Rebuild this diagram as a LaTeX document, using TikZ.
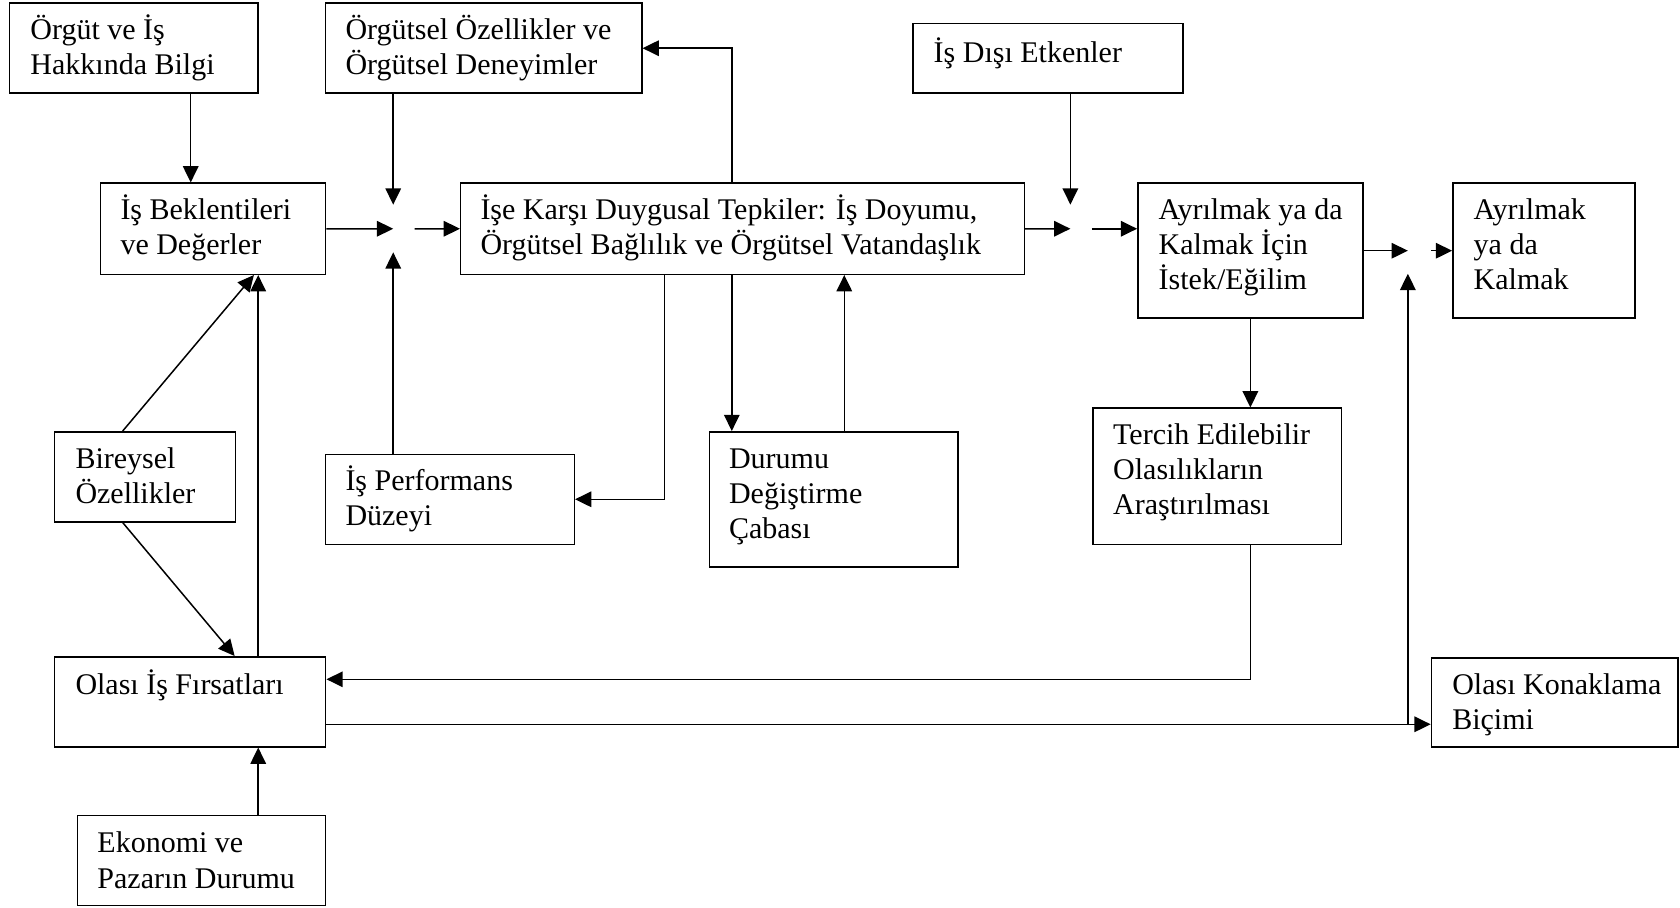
\documentclass[tikz,border=0pt]{standalone}
\usepackage{fontspec}
\setmainfont{Liberation Serif}
\usetikzlibrary{arrows.meta,fit}
\newcommand\boxlines[1]{\parbox[t]{300pt}{\raggedright #1}}
\begin{document}
\begin{tikzpicture}[x=0.4286pt,y=-0.4286pt,
  box/.style={draw, line width=0.6pt, inner sep=0pt},
  txt/.style={anchor=base west, inner sep=0pt, font=\fontsize{12}{14.06}\selectfont},
  arr/.style={line width=0.6pt, -{Triangle[length=6.5pt,width=6.2pt]}}]
\useasboundingbox (0,0) rectangle (1568,847);

% boxes
\node[box, fit={(9,3) (241,87)}] (A) {};
\node[box, fit={(304,3) (599,87)}] (B) {};
\node[box, fit={(852,22) (1104,87)}] (C) {};
\node[box, fit={(94,171) (304,256)}] (D) {};
\node[box, fit={(430,171) (956,256)}] (E) {};
\node[box, fit={(1062,171) (1272,297)}] (F) {};
\node[box, fit={(1356,171) (1526,297)}] (G) {};
\node[box, fit={(51,403) (220,487)}] (H) {};
\node[box, fit={(304,424) (536,508)}] (I) {};
\node[box, fit={(662,403) (894,529)}] (J) {};
\node[box, fit={(1020,381) (1252,508)}] (K) {};
\node[box, fit={(51,613) (304,697)}] (L) {};
\node[box, fit={(1336,614) (1566,697)}] (M) {};
\node[box, fit={(72.5,761) (304,845)}] (N) {};

% texts
\node[txt] (tA) at (28,37) {\boxlines{Örgüt ve İş\\Hakkında Bilgi}};
\node[txt] (tB) at (322,37) {\boxlines{Örgütsel Özellikler ve\\Örgütsel Deneyimler}};
\node[txt] (tC) at (871,58) {\boxlines{İş Dışı Etkenler}};
\node[txt] (tD) at (112,205) {\boxlines{İş Beklentileri\\ve Değerler}};
\node[txt] (tE) at (448,205) {\boxlines{İşe Karşı Duygusal Tepkiler: İş Doyumu,\\Örgütsel Bağlılık ve Örgütsel Vatandaşlık}};
\node[txt] (tF) at (1081,205) {\boxlines{Ayrılmak ya da\\Kalmak İçin\\İstek/Eğilim}};
\node[txt] (tG) at (1375,205) {\boxlines{Ayrılmak\\ya da\\Kalmak}};
\node[txt] (tH) at (70,437) {\boxlines{Bireysel\\Özellikler}};
\node[txt] (tI) at (322,458) {\boxlines{İş Performans\\Düzeyi}};
\node[txt] (tJ) at (680,437) {\boxlines{Durumu\\Değiştirme\\Çabası}};
\node[txt] (tK) at (1038.5,415) {\boxlines{Tercih Edilebilir\\Olasılıkların\\Araştırılması}};
\node[txt] (tL) at (70,648) {\boxlines{Olası İş Fırsatları}};
\node[txt] (tM) at (1355,648) {\boxlines{Olası Konaklama\\Biçimi}};
\node[txt] (tN) at (90.5,796) {\boxlines{Ekonomi ve\\Pazarın Durumu}};

% junction points and line positions
\coordinate (J1) at (367,213.5);
\coordinate (J1top) at (367,191);
\coordinate (J1bot) at (367,235.5);
\coordinate (J1out) at (387,213.5);
\coordinate (J2) at (999,213.5);
\coordinate (J2top) at (999,191);
\coordinate (J2out) at (1019,213.5);
\coordinate (J3) at (1314,234);
\coordinate (J3bot) at (1314,255.5);
\coordinate (J3out) at (1335.5,234);
\coordinate (br) at (1314,676);
\coordinate (kl) at (1167,634);
\coordinate (x178) at (178,0);
\coordinate (x683) at (683,0);
\coordinate (x620) at (620,0);
\coordinate (x788) at (788,0);
\coordinate (x114) at (114.5,0);
\coordinate (x219) at (219,0);
\coordinate (x237) at (237,0);
\coordinate (x241) at (241,0);

% connectors
\draw[arr] (A.south -| x178) -- (D.north -| x178);
\draw[arr] (B.south -| J1) -- (J1top);
\draw[arr] (D.east) -- (J1);
\draw[arr] (I.north -| J1) -- (J1bot);
\draw[arr] (J1out) -- (E.west);
\draw[arr] (E.north -| x683) |- (B.east);
\draw[arr] (C.south -| J2) -- (J2top);
\draw[arr] (E.east) -- (J2);
\draw[arr] (J2out) -- (J2out -| F.west);
\draw[arr] (F.east) -- (J3);
\draw[arr] (J3out) -- (G.west);
\draw[arr] (E.south -| x620) |- (I.east);
\draw[arr] (E.south -| x683) -- (J.north -| x683);
\draw[arr] (J.north -| x788) -- (E.south -| x788);
\draw[arr] (F.south) -- (K.north -| F.south);
\draw[arr] (K.south -| kl) |- (L.east |- kl);
\draw[arr] (L.east |- br) -- (M.west |- br);
\draw[arr] (br) -- (J3bot);
\draw[arr] (H.north -| x114) -- (D.south -| x237);
\draw[arr] (H.south -| x114) -- (L.north -| x219);
\draw[arr] (L.north -| x241) -- (D.south -| x241);
\draw[arr] (N.north -| x241) -- (L.south -| x241);
\end{tikzpicture}
\end{document}
